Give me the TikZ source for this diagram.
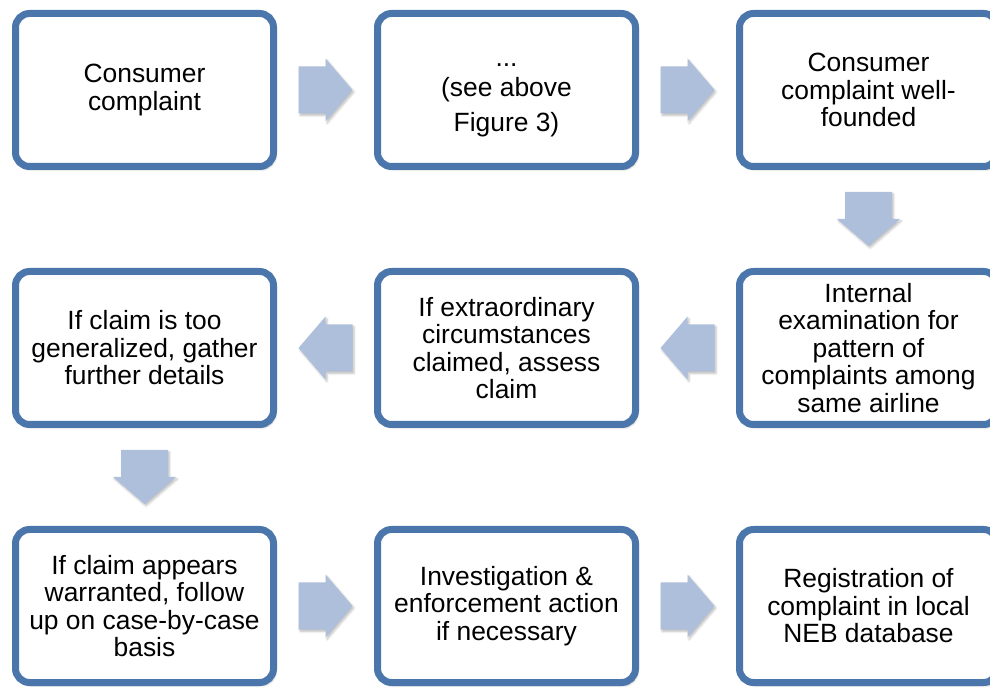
\documentclass[tikz,border=0pt]{standalone}
\usepackage{fontspec}
\setmainfont{Liberation Sans}
\usetikzlibrary{calc,shadows.blur}
\definecolor{boxline}{RGB}{74,118,171}
\definecolor{arrowfill}{RGB}{174,191,220}
\tikzset{
  stepbox/.style={draw=boxline, line width=7pt, fill=white, rounded corners=14pt,
    minimum width=258pt, minimum height=153pt, inner sep=0pt, align=center,
    font=\fontsize{26.4}{27.5}\selectfont,
    blur shadow={shadow xshift=2pt, shadow yshift=-3pt, shadow blur steps=6, shadow opacity=30}},
  flowarrow/.pic={
    \fill[arrowfill, blur shadow={shadow xshift=1.5pt, shadow yshift=-2pt, shadow blur steps=5, shadow opacity=25}]
      (-27,-23.5) -- (0,-23.5) -- (0,-31.5) -- (27,0) -- (0,31.5) -- (0,23.5) -- (-27,23.5) -- cycle;}
}
\begin{document}
\begin{tikzpicture}[x=1pt,y=1pt]
\useasboundingbox (0,0) rectangle (990,688);
% top row
\node[stepbox] (complaint) at (144.5,598) {Consumer\\complaint};
\node[stepbox] (seeabove) at (506.5,598) {\rule{0pt}{24pt}...\\[2pt](see above\\[8pt]Figure 3)};
\node[stepbox] (wellfounded) at (868.5,598) {Consumer\\complaint well-\\founded};
% middle row
\node[stepbox] (generalized) at (144.5,340) {If claim is too\\generalized, gather\\further details};
\node[stepbox] (extraord) at (506.5,340) {If extraordinary\\circumstances\\claimed, assess\\claim};
\node[stepbox] (internal) at (868.5,340) {Internal\\examination for\\pattern of\\complaints among\\same airline};
% bottom row
\node[stepbox] (warranted) at (144.5,82) {If claim appears\\warranted, follow\\up on case-by-case\\basis};
\node[stepbox] (enforce) at (506.5,82) {Investigation \&\\enforcement action\\if necessary};
\node[stepbox] (registry) at (868.5,82) {Registration of\\complaint in local\\NEB database};
% block arrows
\pic at ($(complaint.east)!0.5!(seeabove.west)$) {flowarrow};
\pic at ($(seeabove.east)!0.5!(wellfounded.west)$) {flowarrow};
\pic[rotate=-90] at ($(wellfounded.south)!0.5!(internal.north)$) {flowarrow};
\pic[rotate=180] at ($(internal.west)!0.5!(extraord.east)$) {flowarrow};
\pic[rotate=180] at ($(extraord.west)!0.5!(generalized.east)$) {flowarrow};
\pic[rotate=-90] at ($(generalized.south)!0.5!(warranted.north)$) {flowarrow};
\pic at ($(warranted.east)!0.5!(enforce.west)$) {flowarrow};
\pic at ($(enforce.east)!0.5!(registry.west)$) {flowarrow};
\end{tikzpicture}
\end{document}
